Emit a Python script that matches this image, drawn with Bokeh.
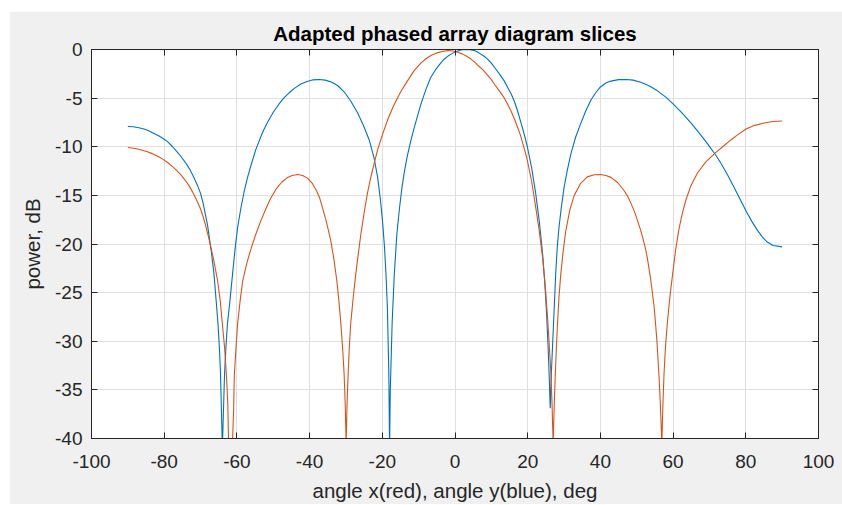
from bokeh.plotting import figure
from bokeh.models import LinearAxis, FixedTicker, Range1d, CustomJSTickFormatter, Spacer
from bokeh.layouts import column, row
from bokeh.embed import file_html
from bokeh.resources import INLINE

title_text = "Adapted phased array diagram slices"
x_label = "angle x(red), angle y(blue), deg"
y_label = "power, dB"
x_ticks = [-100, -80, -60, -40, -20, 0, 20, 40, 60, 80, 100]
y_ticks = [-40, -35, -30, -25, -20, -15, -10, -5, 0]

# blue curve: slice along angle y
blue_angle = [-90, -88.5, -87, -85.8, -84.6, -83.5, -82.5, -81.4, -80.3, -79, -77.7, -76.5,
              -75.4, -74.2, -73, -71.9, -70.8, -70, -69.3, -68.7, -68.1, -67.6, -67.0, -66.3,
              -65.8, -65.2, -64.8, -64.5, -64.0,
              -63.4, -63.0, -62.6, -61.9, -61.2, -60.5, -59.8, -58.9, -58.0, -57.1, -56.2,
              -54.8, -53.4, -52.6, -51.6, -50, -48.5, -47, -45.5, -44, -42.4, -40.7, -39,
              -37.4, -35.7, -34, -32.3, -30.5, -28.7, -26.8, -25.1, -23.6, -22.3, -21.3,
              -20.5, -19.9, -19.4, -19.0, -18.6, -18.2, -18.0,
              -17.8, -17.3, -16.7, -16.0, -15.3, -14.6, -13.9, -13.2, -12.3, -11.4, -10.4,
              -9.4, -8.0, -6.7, -5.4, -4.1, -3, -2, -1, 0, 1, 2, 3, 4, 5.3, 6.2, 7, 8, 8.9,
              10, 11, 12.2, 13.5, 14.5, 15.5, 16.4, 17.2, 18.2, 19.1, 19.9, 21.1, 22.2,
              23.2, 24.1, 24.7, 25.2, 25.6, 25.9, 26.2,
              26.5, 27.1, 27.7, 28.1, 28.6, 29.3, 30.0, 30.9, 31.9, 33.2, 34.6, 36, 37.4,
              38.7, 40.0, 41.5, 42.9, 45, 47.2, 49, 51.1, 53.5, 55.7, 58, 60.0, 62.5, 64.9,
              67.2, 69.5, 71.8, 73.4, 75.0, 76.4, 77.7, 79, 80.2, 81.7, 83.2, 84.6, 85.9,
              87.5, 90]
blue_db = [-7.92, -7.95, -8.05, -8.15, -8.3, -8.5, -8.7, -8.9, -9.15, -9.5, -10.0, -10.5,
           -11.0, -11.6, -12.3, -13.1, -14.0, -14.8, -15.8, -16.9, -18.0, -19.3, -20.9, -23.1,
           -25.4, -28.2, -30.8, -33.4, -41,
           -33.4, -30.5, -28.2, -25.8, -23.1, -20.5, -18.3, -16.3, -14.6, -13.2, -12.0,
           -10.3, -8.95, -8.25, -7.5, -6.45, -5.65, -4.95, -4.4, -3.95, -3.55, -3.3, -3.12,
           -3.08, -3.15, -3.35, -3.7, -4.35, -5.3, -6.5, -7.9, -9.3, -11.1, -13.1,
           -15.5, -17.8, -20.3, -23.0, -26.5, -33.4, -41,
           -35, -28.2, -23.1, -19.0, -16.4, -14.2, -12.5, -11.1, -9.6, -8.3, -6.95,
           -5.65, -4.1, -2.9, -2.1, -1.47, -1.0, -0.7, -0.45, -0.27, -0.12, -0.03, 0.0, -0.02, -0.1, -0.25, -0.45, -0.7, -0.96,
           -1.4, -1.9, -2.5, -3.2, -3.9, -4.6, -5.4, -6.3, -7.6, -8.8, -10.0, -12.2, -14.8,
           -17.7, -21.0, -24.0, -27.2, -30.5, -33.4, -36.9,
           -33.4, -28.2, -23.1, -20.5, -18.3, -16.1, -14.2, -12.4, -10.7, -9.0, -7.6, -6.3, -5.2,
           -4.45, -3.85, -3.45, -3.25, -3.1, -3.08, -3.15, -3.36, -3.75, -4.25, -4.9, -5.6, -6.55, -7.55,
           -8.6, -9.7, -10.9, -11.85, -12.9, -13.9, -14.85, -15.8, -16.7, -17.7, -18.6, -19.3, -19.8,
           -20.15, -20.3]

# red curve: slice along angle x
red_angle = [-90, -88.5, -87, -85.8, -84.6, -83.5, -82.5, -81.4, -80.3, -79, -77.7, -76.5,
             -75.4, -74.2, -73, -71.9, -70.8, -70, -69.2, -68.4, -67.6, -66.4, -65.3, -64.6,
             -64.0, -63.4, -62.9, -62.5, -62.3, -61.2, -60.9, -60.7, -60.2, -59.8, -59.1,
             -58.4, -57.3, -56.2, -54.8, -53.4, -52, -50.7, -49.2, -47.7, -46.2, -44.8,
             -43.3, -41.9, -40.5, -39.2, -38, -37.2, -36.5, -35.4, -34.2, -33.3, -32.5,
             -31.9, -31.4, -30.9, -30.5, -30.2, -29.95, -29.7, -29.4, -29.1, -28.7, -28.0,
             -27.3, -26.6, -25.9, -25.0, -24.1, -23.2, -22.3, -21.2, -20.0, -18.4, -16.8,
             -15.0, -13.2, -11.3, -9.4, -8, -6.5, -5, -3.5, -2.0, -1, 0, 1, 2.0, 3.2, 4.3,
             5.4, 6.5, 7.7, 8.9, 10, 11, 12.3, 13.5, 14.5, 15.5, 16.4, 17.2, 18.0, 18.6,
             19.3, 19.9, 21.1, 22.2, 23.2, 24.1, 24.8, 25.4, 25.9, 26.4, 26.7, 27.0, 27.3,
             27.6, 27.9, 28.2, 28.6, 29.1, 29.8, 30.5, 31.6, 32.8, 34.5, 36.4, 38.3, 40.1,
             41.5, 42.9, 44.8, 46.5, 47.5, 48.5, 49.4, 50.2, 51.0, 51.6, 52.3, 52.9, 53.9,
             54.8, 55.5, 56.1, 56.5, 56.9, 57.2, 57.5, 57.9, 58.4, 59.1, 59.8, 60.7, 61.6,
             62.5, 63.5, 64.9, 66.7, 69.0, 71.7, 73.8, 75.9, 78, 80.2, 82.5, 85.0, 87.5, 90]
red_db = [-10.08, -10.15, -10.25, -10.38, -10.52, -10.68, -10.85, -11.05, -11.3, -11.65, -12.05, -12.45,
          -12.9, -13.45, -14.1, -14.85, -15.7, -16.4, -17.3, -18.4, -19.6, -21.6, -23.8, -25.8,
          -28.2, -30.6, -33.4, -36.5, -40.3, -40.3, -37, -33.4, -30.4, -28.2, -25.8,
          -23.8, -22.0, -20.6, -19.0, -17.6, -16.35, -15.3, -14.35, -13.65, -13.2, -12.95,
          -12.85, -12.95, -13.25, -13.8, -14.6, -15.3, -16.2, -17.7, -19.6, -21.6, -23.8,
          -26.0, -28.2, -30.8, -33.4, -36.5, -40.5, -36.5, -33.4, -30.8, -28.2, -25.5,
          -23.1, -21.0, -19.0, -16.8, -14.8, -13.2, -11.8, -10.2, -8.8, -7.1, -5.7,
          -4.4, -3.3, -2.2, -1.4, -0.95, -0.6, -0.35, -0.2, -0.12, -0.13, -0.2, -0.3, -0.45, -0.7, -0.96,
          -1.3, -1.7, -2.1, -2.6, -3.1, -3.65, -4.3, -4.95, -5.65, -6.4, -7.2, -8.0, -8.8, -9.6,
          -10.5, -11.4, -13.6, -16.2, -18.7, -21.4, -24.2, -27.2, -30.2, -33.4, -36.5, -40.5, -36.5,
          -33.4, -30.6, -28.2, -25.5, -23.1, -20.6, -18.6, -16.5, -15.0, -13.8, -13.1, -12.88, -12.85,
          -12.95, -13.15, -13.7, -14.5, -15.1, -15.9, -16.7, -17.6, -18.5, -19.3, -20.3, -21.4, -23.8,
          -26.5, -29.7, -33.4, -36.5, -40.5, -36.5, -33.4, -30.6, -28.2, -25.5, -23.3, -20.6, -18.5,
          -16.9, -15.5, -14.0, -12.7, -11.55, -10.6, -9.95, -9.3, -8.7, -8.15, -7.8, -7.55, -7.4, -7.35]

FONT = "Liberation Sans"
AX = "#262626"

p = figure(frame_width=727, frame_height=389, output_backend="svg", toolbar_location=None,
           x_range=Range1d(-100, 100), y_range=Range1d(-40, 0),
           min_border_left=82, min_border_right=24, min_border_top=38, min_border_bottom=65,
           background_fill_color="white", border_fill_color="#f0f0f0",
           outline_line_color=AX, outline_line_width=1)

p.title.text = title_text
p.title.align = "center"
p.title.text_font = FONT
p.title.text_font_size = "20.5px"
p.title.text_font_style = "bold"
p.title.text_color = "black"

def style_axis(ax, ticks, show_labels=True):
    ax.ticker = FixedTicker(ticks=ticks)
    ax.axis_line_color = AX
    ax.major_tick_line_color = AX
    ax.major_tick_in = 6
    ax.major_tick_out = 0
    ax.minor_tick_line_color = None
    ax.major_label_text_font = FONT
    ax.major_label_text_font_size = "19px"
    ax.major_label_text_color = AX
    ax.axis_label_text_font = FONT
    ax.axis_label_text_font_size = "20.5px"
    ax.axis_label_text_font_style = "normal"
    ax.axis_label_text_color = AX
    if show_labels:
        ax.formatter = CustomJSTickFormatter(code="return tick.toString();")
    else:
        ax.formatter = CustomJSTickFormatter(code="return '';")
        ax.major_label_standoff = 0

style_axis(p.xaxis[0], x_ticks)
style_axis(p.yaxis[0], y_ticks)
p.xaxis[0].axis_label = x_label
p.yaxis[0].axis_label = y_label
p.xaxis[0].major_label_standoff = 16
p.xaxis[0].axis_label_standoff = 8
p.yaxis[0].major_label_standoff = 9
p.yaxis[0].axis_label_standoff = 8

top_ax = LinearAxis()
right_ax = LinearAxis()
style_axis(top_ax, x_ticks, show_labels=False)
style_axis(right_ax, y_ticks, show_labels=False)
p.add_layout(top_ax, "above")
p.add_layout(right_ax, "right")

p.xgrid.ticker = FixedTicker(ticks=x_ticks)
p.ygrid.ticker = FixedTicker(ticks=y_ticks)
p.grid.grid_line_color = "#dfdfdf"
p.grid.grid_line_width = 1

p.line(blue_angle, blue_db, line_color="#0072BD", line_width=1.1)
p.line(red_angle, red_db, line_color="#D95319", line_width=1.1)

page = column(Spacer(width=842, height=11), row(Spacer(width=9, height=492), p))

open("out.html", "w").write(file_html(page, INLINE))
